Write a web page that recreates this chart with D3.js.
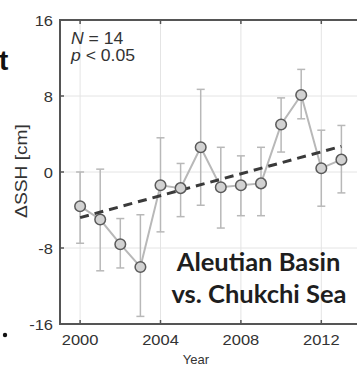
<!DOCTYPE html>
<html><head><meta charset="utf-8">
<script src="https://cdn.jsdelivr.net/npm/d3@7"></script>
<style>body{margin:0;background:#fff}svg{display:block}</style>
</head><body>
<script>
const years = [2000,2001,2002,2003,2004,2005,2006,2007,2008,2009,2010,2011,2012,2013];
const values = [-3.6,-5.0,-7.6,-10.0,-1.4,-1.7,2.6,-1.6,-1.4,-1.2,5.0,8.1,0.4,1.3];
const errHigh = [0.0,0.3,-4.9,-4.5,3.6,0.9,8.7,2.6,1.7,2.6,7.8,10.8,4.4,4.9];
const errLow = [-7.5,-10.4,-10.1,-15.2,-6.3,-4.7,-3.5,-5.9,-4.6,-4.6,2.1,5.6,-3.6,-2.2];
const trendYears = [2000,2013];
const trendValues = [-4.8,2.7];
const xTicks = [2000,2004,2008,2012];
const yTicks = [-16,-8,0,8,16];

const W=357,H=368;
const svg=d3.select("body").append("svg").attr("width",W).attr("height",H);
const x=d3.scaleLinear().domain([1999,2014]).range([60,361.5]);
const y=d3.scaleLinear().domain([-16,16]).range([324,20]);
const font="'Liberation Sans', Arial, sans-serif";
const txtC="#333";

// grid
svg.append("g").selectAll("line").data(xTicks).join("line")
 .attr("x1",d=>x(d)).attr("x2",d=>x(d)).attr("y1",y(16)).attr("y2",y(-16))
 .attr("stroke","#e4e4e4").attr("stroke-width",1);
svg.append("g").selectAll("line").data(yTicks.slice(1,-1)).join("line")
 .attr("x1",x(1999)).attr("x2",x(2014)).attr("y1",d=>y(d)).attr("y2",d=>y(d))
 .attr("stroke","#e4e4e4").attr("stroke-width",1);

// error bars
const eb=svg.append("g").attr("stroke","#b8b8b8").attr("stroke-width",1.5);
years.forEach((yr,i)=>{
  eb.append("line").attr("x1",x(yr)).attr("x2",x(yr)).attr("y1",y(errHigh[i])).attr("y2",y(errLow[i]));
  [errHigh[i],errLow[i]].forEach(v=>eb.append("line").attr("x1",x(yr)-4).attr("x2",x(yr)+4).attr("y1",y(v)).attr("y2",y(v)));
});

// connecting line
svg.append("path").datum(years.map((yr,i)=>[yr,values[i]]))
 .attr("d",d3.line().x(d=>x(d[0])).y(d=>y(d[1])))
 .attr("fill","none").attr("stroke","#b8b8b8").attr("stroke-width",2);

// trend
svg.append("line").attr("x1",x(trendYears[0])).attr("x2",x(trendYears[1]))
 .attr("y1",y(trendValues[0])).attr("y2",y(trendValues[1]))
 .attr("stroke","#3a3a3a").attr("stroke-width",3).attr("stroke-dasharray","9,6");

// points
svg.append("g").selectAll("circle").data(years).join("circle")
 .attr("cx",d=>x(d)).attr("cy",(d,i)=>y(values[i])).attr("r",5.3)
 .attr("fill","#d2d2d2").attr("stroke","#5a5a5a").attr("stroke-width",1.5);

// axes frame
const axC="#555";
svg.append("line").attr("x1",x(1999)).attr("x2",x(1999)).attr("y1",y(16)).attr("y2",y(-16)).attr("stroke",axC).attr("stroke-width",2);
svg.append("line").attr("x1",x(1999)-1).attr("x2",x(2014)).attr("y1",y(16)).attr("y2",y(16)).attr("stroke",axC).attr("stroke-width",2);
svg.append("line").attr("x1",x(1999)-1).attr("x2",x(2014)).attr("y1",y(-16)).attr("y2",y(-16)).attr("stroke",axC).attr("stroke-width",2);
xTicks.forEach(t=>{
  svg.append("line").attr("x1",x(t)).attr("x2",x(t)).attr("y1",y(-16)).attr("y2",y(-16)-4).attr("stroke",axC).attr("stroke-width",1.5);
  svg.append("line").attr("x1",x(t)).attr("x2",x(t)).attr("y1",y(16)).attr("y2",y(16)+4).attr("stroke",axC).attr("stroke-width",1.5);
});
yTicks.forEach(t=>{
  svg.append("line").attr("x1",x(1999)).attr("x2",x(1999)+4).attr("y1",y(t)).attr("y2",y(t)).attr("stroke",axC).attr("stroke-width",1.5);
});

// tick labels (slightly wide lettering as in the reference)
svg.append("g").selectAll("text").data(yTicks).join("text")
 .attr("transform",d=>`translate(53,${y(d)+6}) scale(1.1,1)`).attr("text-anchor","end")
 .attr("font-family",font).attr("font-size",15).attr("fill",txtC).text(d=>d);
svg.append("g").selectAll("text").data(xTicks).join("text")
 .attr("transform",d=>`translate(${x(d)},345) scale(1.1,1)`).attr("text-anchor","middle")
 .attr("font-family",font).attr("font-size",15).attr("fill",txtC).text(d=>d);

// axis labels
svg.append("text").attr("transform","translate(27,171) rotate(-90) scale(1.2,1)").attr("text-anchor","middle")
 .attr("font-family",font).attr("font-size",16).attr("fill",txtC).text("ΔSSH [cm]");
svg.append("text").attr("x",196).attr("y",364).attr("text-anchor","middle")
 .attr("font-family",font).attr("font-size",13).attr("fill",txtC).text("Year");

// stats text
const st=svg.append("text").attr("transform","translate(71,44) scale(1.1,1)").attr("font-family",font).attr("font-size",16).attr("fill",txtC);
st.append("tspan").attr("font-style","italic").text("N");
st.append("tspan").text(" = 14");
const st2=svg.append("text").attr("transform","translate(71,61) scale(1.1,1)").attr("font-family",font).attr("font-size",16).attr("fill",txtC);
st2.append("tspan").attr("font-style","italic").text("p");
st2.append("tspan").text(" < 0.05");

// title
const tf="Lato, 'Open Sans', sans-serif";
svg.append("text").attr("x",258.5).attr("y",271).attr("text-anchor","middle")
 .attr("font-family",tf).attr("font-weight","bold").attr("font-size",25.5).attr("fill","#1e1e1e").text("Aleutian Basin");
svg.append("text").attr("x",259).attr("y",303).attr("text-anchor","middle")
 .attr("font-family",tf).attr("font-weight","bold").attr("font-size",25.5).attr("fill","#1e1e1e").text("vs. Chukchi Sea");

// fragments from neighbouring panel
svg.append("text").attr("x",-1).attr("y",70).attr("font-family",font).attr("font-weight","bold").attr("font-size",28).attr("fill","#111").text("t");
svg.append("circle").attr("cx",5).attr("cy",335).attr("r",2.2).attr("fill","#111");
</script>
</body></html>
